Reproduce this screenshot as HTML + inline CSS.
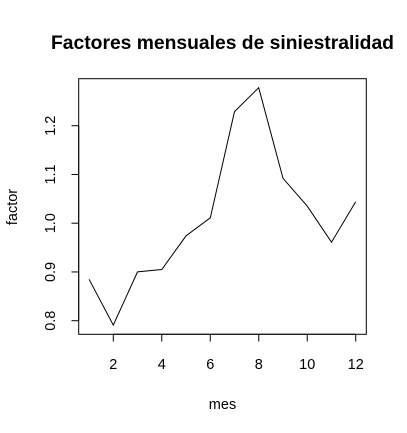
<!DOCTYPE html>
<html><head><meta charset="utf-8"><style>body{margin:0;background:#fff}svg{display:block}text{font-family:"Liberation Sans",sans-serif;fill:#000}</style></head>
<body>
<svg width="407" height="433">
<rect x="0" y="0" width="407" height="433" fill="#fff"/>
<text x="222.5" y="49" font-size="19.3" font-weight="bold" text-anchor="middle">Factores mensuales de siniestralidad</text>
<rect x="78.7" y="78.7" width="287.6" height="255.6" fill="none" stroke="#000" stroke-width="1"/>
<g id="xaxis"></g>
<g id="yaxis"></g>
<path id="line" fill="none" stroke="#000" stroke-width="1"/>
<text x="222.5" y="409" font-size="14.5" text-anchor="middle">mes</text>
<text x="17" y="207" font-size="14.5" text-anchor="middle" transform="rotate(-90 17 207)">factor</text>
</svg>
<script>
const months=[1,2,3,4,5,6,7,8,9,10,11,12];
const factors=[0.885,0.791,0.900,0.905,0.974,1.011,1.229,1.278,1.092,1.035,0.961,1.044];
const xTicks=[2,4,6,8,10,12];
const yTicks=[0.8,0.9,1.0,1.1,1.2];
const yTickLabels=["0.8","0.9","1.0","1.1","1.2"];
const NS="http://www.w3.org/2000/svg";
function xs(v){return 113.3+(v-2)*24.24;}
function ys(v){return 320.7-(v-0.8)*487.5;}
const xa=document.getElementById('xaxis'),ya=document.getElementById('yaxis');
function mk(tag,attrs,parent){const e=document.createElementNS(NS,tag);for(const k in attrs)e.setAttribute(k,attrs[k]);parent.appendChild(e);return e;}
let l=mk('line',{x1:xs(xTicks[0]),x2:xs(xTicks[xTicks.length-1]),y1:334.3,y2:334.3,stroke:'#000'},xa);


xTicks.forEach(t=>{
 const tk=mk('line',{x1:xs(t),x2:xs(t),y1:334.3,y2:341.5,stroke:'#000'},xa);
 
 
 const tx=mk('text',{x:xs(t),y:369,'font-size':14.5,'text-anchor':'middle'},xa);
 tx.textContent=t;
 
 
});
l=mk('line',{x1:78.7,x2:78.7,y1:ys(yTicks[0]),y2:ys(yTicks[yTicks.length-1]),stroke:'#000'},ya);


yTicks.forEach((t,i)=>{
 const y=ys(t);
 const tk=mk('line',{x1:71.5,x2:78.7,y1:y,y2:y,stroke:'#000'},ya);
 
 
 const tx=mk('text',{x:55,y:y,'font-size':14.5,'text-anchor':'middle',transform:`rotate(-90 55 ${y})`},ya);
 tx.textContent=yTickLabels[i];
 
 
});
document.getElementById('line').setAttribute('d',months.map((m,i)=>(i?'L':'M')+xs(m).toFixed(1)+' '+ys(factors[i]).toFixed(1)).join(' '));
</script>
</body></html>
